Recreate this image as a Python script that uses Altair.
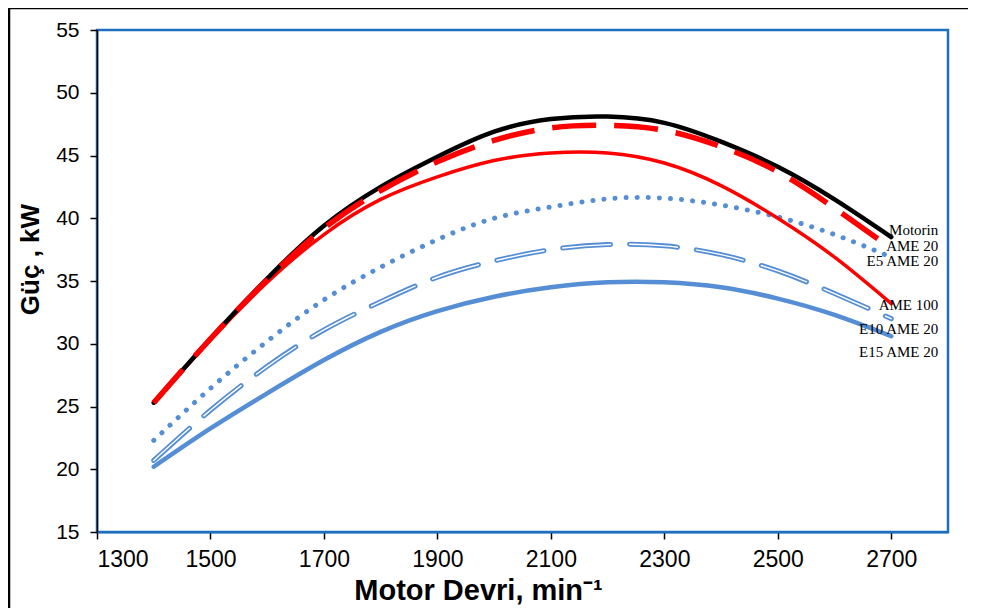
import altair as alt
import pandas as pd

rpm = [1400, 1500, 1600, 1700, 1800, 1900, 2000, 2100, 2200, 2300, 2400, 2500, 2600, 2700]

motorin = [25.3, 30.4, 35.2, 39.4, 42.5, 44.9, 46.9, 47.9, 48.1, 47.6, 46.1, 44.1, 41.5, 38.5]
ame20 = [25.3, 30.4, 35.1, 39.2, 42.2, 44.5, 46.2, 47.2, 47.4, 47.0, 45.7, 43.7, 40.8, 37.6]
ame100 = [25.3, 30.3, 34.9, 38.7, 41.5, 43.3, 44.6, 45.2, 45.2, 44.4, 42.6, 40.0, 36.9, 33.2]
e5ame20 = [22.3, 26.45, 30.2, 33.5, 36.1, 38.3, 40.0, 40.9, 41.55, 41.6, 41.05, 40.1, 38.7, 36.9]
e10ame20 = [20.7, 24.7, 28.2, 31.1, 33.35, 35.3, 36.6, 37.5, 37.9, 37.8, 37.1, 35.8, 34.0, 32.0]
e15ame20 = [20.2, 23.25, 26.05, 28.7, 30.95, 32.6, 33.75, 34.5, 34.9, 34.9, 34.5, 33.6, 32.3, 30.6]

series_names = ["Motorin", "AME 20", "E5 AME 20", "AME 100", "E10 AME 20", "E15 AME 20"]
series_values = [motorin, ame20, e5ame20, ame100, e10ame20, e15ame20]

x_ticks = [1300, 1500, 1700, 1900, 2100, 2300, 2500, 2700]
y_ticks = [15, 20, 25, 30, 35, 40, 45, 50, 55]

rows = []
for name, vals in zip(series_names, series_values):
    for r, v in zip(rpm, vals):
        rows.append({"seri": name, "devir": r, "guc": v})
df = pd.DataFrame(rows)

RED = "#FF0000"
BLUE = "#558ED5"

xs = alt.Scale(domain=[1300, 2800], nice=False, zero=False)
ys = alt.Scale(domain=[15, 55], nice=False, zero=False)

xax = alt.Axis(values=x_ticks, format="d", title="Motor Devri, min⁻¹", grid=False,
               labelFont="Liberation Sans", labelFontSize=23, labelColor="black",
               labelPadding=9, tickSize=7, tickColor="black", tickWidth=1.5,
               domainColor="#1F6FBF", domainWidth=2,
               titleFont="Liberation Sans", titleFontSize=29, titleFontWeight="bold",
               titleColor="black", titleX=381, titleY=58, titleBaseline="middle",
               titleAlign="center")
yax = alt.Axis(values=y_ticks, format="d", title="Güç , kW", grid=False,
               labelFont="Liberation Sans", labelFontSize=21, labelColor="black",
               labelPadding=11, tickSize=7, tickColor="black", tickWidth=1.5,
               domainColor="black", domainWidth=1.5,
               titleFont="Liberation Sans", titleFontSize=26, titleFontWeight="bold",
               titleColor="black", titleX=-67, titleY=229, titleAngle=270,
               titleBaseline="middle", titleAlign="center")

X = alt.X("devir:Q", scale=xs, axis=xax)
Y = alt.Y("guc:Q", scale=ys, axis=yax)

base = alt.Chart(df)

def line(name, color, width, dash=None, cap="butt"):
    kw = dict(color=color, strokeWidth=width, interpolate="natural", strokeCap=cap, clip=False)
    if dash is not None:
        kw["strokeDash"] = dash
    return base.transform_filter(alt.datum.seri == name).mark_line(**kw).encode(x=X, y=Y)

l_e15 = line("E15 AME 20", BLUE, 4.5, cap="round")
l_e10a = line("E10 AME 20", BLUE, 5, dash=[48, 19], cap="round")
l_e10b = line("E10 AME 20", "white", 1.4, dash=[48, 19], cap="round")
l_e5 = line("E5 AME 20", BLUE, 5, dash=[0.1, 11], cap="round")
l_ame100 = line("AME 100", RED, 3.5, cap="round")
l_mot = line("Motorin", "black", 4.5, cap="round")
l_ame20 = line("AME 20", RED, 5.5, dash=[44, 18], cap="butt")

# labels at the end of each series, right-aligned
label_dy = [-7, -2, 4, 1, 10, 16]
label_layers = []
for name, vals, dy in zip(series_names, series_values, label_dy):
    ldf = pd.DataFrame({"seri": [name], "devir": [rpm[-1]], "guc": [vals[-1]]})
    label_layers.append(
        alt.Chart(ldf).mark_text(font="Liberation Serif", fontSize=15, color="black",
                                 align="right", baseline="middle", dx=47, dy=dy)
        .encode(x=X, y=Y, text="seri:N")
    )

# outer frame of the picture
one = pd.DataFrame({"a": [0]})
frame_top = alt.Chart(one).mark_rule(color="black", strokeWidth=2.5, clip=False).encode(
    x=alt.value(-89), x2=alt.value(890), y=alt.value(-22))
frame_left = alt.Chart(one).mark_rule(color="black", strokeWidth=2.5, clip=False).encode(
    x=alt.value(-88), y=alt.value(-23), y2=alt.value(600))

chart = alt.layer(
    l_e15, l_e10a, l_e10b, l_e5, l_ame100, l_mot, l_ame20, *label_layers, frame_top, frame_left
).properties(
    width=851, height=502,
    autosize=alt.AutoSizeParams(type="none"),
    padding={"left": 89, "top": 22, "right": 20, "bottom": 90},
    background="white",
).configure_view(stroke="#1F6FBF", strokeWidth=2.5)

chart.save("out.html", embed_options={"renderer": "svg", "actions": False})
